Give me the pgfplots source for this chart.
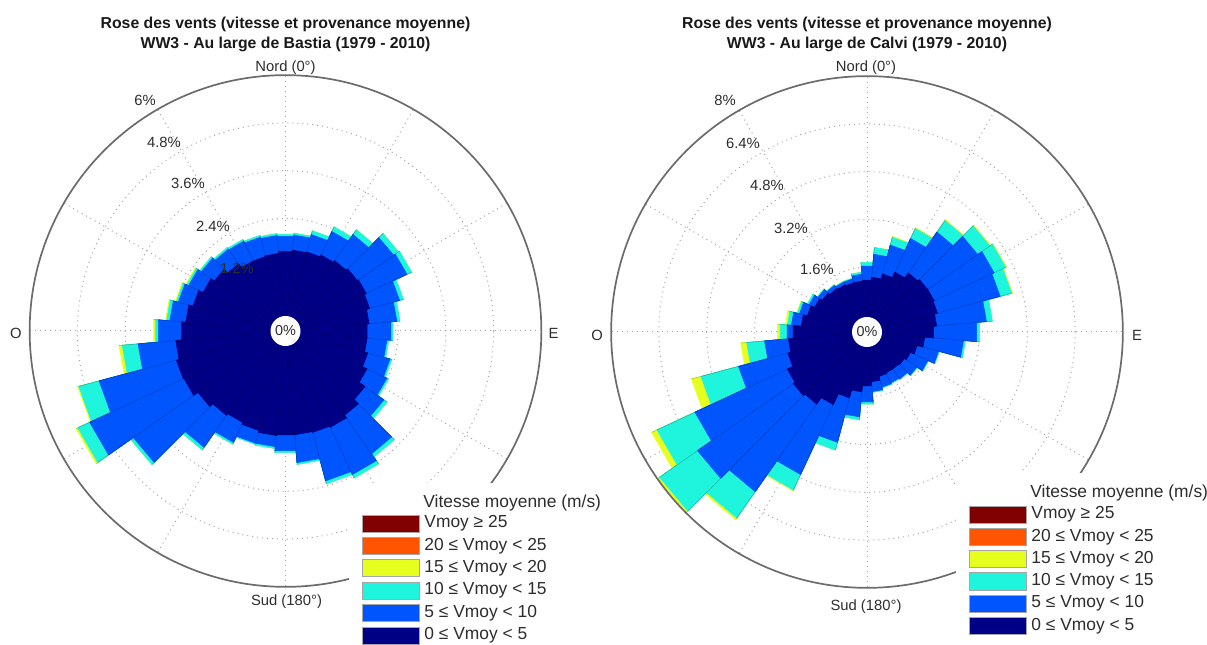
\documentclass[border=0pt]{standalone}
\usepackage{fontspec}
\setmainfont{Liberation Sans}
\usepackage{pgfplots}
\usepackage{pgfplotstable}
\pgfplotsset{compat=1.18}

\definecolor{cA}{RGB}{0,0,135}
\definecolor{cB}{RGB}{0,85,255}
\definecolor{cC}{RGB}{30,245,220}
\definecolor{cD}{RGB}{230,255,30}
\definecolor{cE}{RGB}{255,85,0}
\definecolor{cF}{RGB}{128,0,0}
\definecolor{gridc}{RGB}{165,165,165}
\definecolor{txt}{RGB}{45,45,45}

% frequency (%) per direction sector (10 deg) and speed class
% a: 0-5, b: 5-10, c: 10-15, d: 15-20 m/s
\pgfplotstableread{
dir a b c d
0 1.58 0.38 0.05 0
10 1.61 0.38 0.05 0
20 1.63 0.45 0.10 0
30 1.68 0.65 0.13 0
40 1.73 0.80 0.15 0
50 1.78 1.11 0.15 0
60 1.81 1.13 0.13 0
70 1.76 0.78 0.10 0
80 1.68 0.70 0.08 0
90 1.63 0.60 0.05 0
100 1.63 0.50 0.05 0
110 1.71 0.58 0.05 0
120 1.83 0.55 0.05 0
130 2.01 0.58 0.10 0
140 2.16 1.18 0.10 0
150 2.24 1.31 0.10 0
160 2.21 1.26 0.08 0
170 2.19 0.70 0.05 0
180 2.19 0.40 0.05 0
190 2.21 0.28 0.05 0
200 2.16 0.33 0.03 0
210 2.11 0.55 0.05 0
220 2.16 0.98 0.08 0
230 2.26 1.98 0.08 0
240 2.39 2.61 0.33 0.05
250 2.41 2.01 0.53 0.03
260 2.34 0.95 0.40 0.08
270 2.19 0.58 0.08 0.05
280 2.09 0.40 0.08 0.03
290 1.98 0.38 0.05 0.03
300 1.86 0.40 0.05 0.03
310 1.76 0.40 0.05 0
320 1.63 0.45 0.05 0
330 1.51 0.55 0.05 0
340 1.51 0.50 0.05 0
350 1.53 0.45 0.05 0
}\bastia

\pgfplotstableread{
dir a b c d
0 1.17 0.47 0.13 0
10 1.27 0.77 0.23 0
20 1.44 1.00 0.27 0.03
30 1.64 1.24 0.37 0.03
40 1.84 1.67 0.47 0.03
50 1.91 2.04 0.50 0.03
60 1.91 2.21 0.43 0.03
70 1.87 2.17 0.40 0.03
80 1.77 1.67 0.20 0
90 1.67 1.44 0.10 0
100 1.37 1.30 0.07 0
110 1.17 0.74 0.03 0
120 1.04 0.64 0.03 0
130 0.97 0.50 0.03 0
140 0.94 0.40 0.03 0
150 0.94 0.37 0.03 0
160 0.97 0.37 0.03 0
170 1.10 0.33 0.03 0
180 1.24 0.54 0.07 0
190 1.44 0.84 0.10 0
200 1.71 1.54 0.27 0
210 2.11 2.58 0.57 0.03
220 2.37 3.58 1.07 0.07
230 2.44 3.91 1.55 0.10
240 2.37 3.41 1.40 0.20
250 2.17 1.71 1.30 0.33
260 2.07 0.80 0.60 0.20
270 1.91 0.20 0.23 0.10
280 1.64 0.33 0.13 0.07
290 1.50 0.27 0.07 0.03
300 1.37 0.20 0.07 0
310 1.27 0.17 0.03 0
320 1.20 0.13 0.03 0
330 1.17 0.10 0.03 0
340 1.14 0.13 0.03 0
350 1.14 0.23 0.07 0
}\calvi

% #1 table, #2 number of stacked classes, #3 pixels per percent, #4 colour
\newcommand\roselayer[4]{%
  \gdef\rosecoords{}%
  \gdef\roseedges{}%
  \pgfplotsforeachungrouped \i in {0,...,35}{%
    \pgfplotstablegetelem{\i}{dir}\of#1\let\rd\pgfplotsretval
    \pgfplotstablegetelem{\i}{a}\of#1\let\ra\pgfplotsretval
    \pgfplotstablegetelem{\i}{b}\of#1\let\rb\pgfplotsretval
    \pgfplotstablegetelem{\i}{c}\of#1\let\rc\pgfplotsretval
    \pgfplotstablegetelem{\i}{d}\of#1\let\rdd\pgfplotsretval
    \pgfmathsetmacro\rr{17+#3*(\ra+(#2>1)*\rb+(#2>2)*\rc+(#2>3)*\rdd)}%
    \pgfmathsetmacro\xa{\rr*sin(\rd-5)}%
    \pgfmathsetmacro\ya{\rr*cos(\rd-5)}%
    \pgfmathsetmacro\xb{\rr*sin(\rd+5)}%
    \pgfmathsetmacro\yb{\rr*cos(\rd+5)}%
    \pgfmathsetmacro\xo{17*sin(\rd-5)}%
    \pgfmathsetmacro\yo{17*cos(\rd-5)}%
    \pgfmathsetmacro\xp{17*sin(\rd+5)}%
    \pgfmathsetmacro\yp{17*cos(\rd+5)}%
    \xdef\rosecoords{\rosecoords(\xa,\ya)(\xb,\yb)}%
    \xdef\roseedges{\roseedges(\xo,\yo)(\xa,\ya)(nan,nan)(\xp,\yp)(\xb,\yb)(nan,nan)}%
  }%
  \edef\rosecmd{\noexpand\addplot[fill=#4,draw=#4,line width=0.3bp] coordinates {\rosecoords};%
    \noexpand\addplot[draw=#4!78!black,line width=0.3bp,unbounded coords=jump] coordinates {\roseedges};}%
  \rosecmd
}

\newcommand\rosegrid{%
  \foreach \r in {64.77,112.54,160.31,208.08}{\draw[gridc,dotted,line width=0.5bp] (0,0) circle[radius=\r];}%
  \foreach \a in {0,30,...,330}{\draw[gridc,dotted,line width=0.5bp] (0,0) -- (90-\a:255.85);}%
}
\newcommand\rosefront{%
  \draw[black!58,line width=0.85bp] (0,0) circle[radius=255.85];
  \fill[white] (0,0) circle[radius=15];
  \node[txt,font=\fontsize{7.2bp}{8bp}\selectfont] at (0,0) {0\%};
}
\newcommand\legtxt{\fontsize{8.7bp}{10bp}\selectfont}
\newcommand\roselegend[4]{% #1 x patch left, #2 y of first row centre, #3 row step, #4 title y
  \fill[white] (#1-13,#4+20) rectangle (#1+260,-320);
  \node[anchor=west,inner sep=0pt,txt,font=\legtxt] at (#1+61,#4) {Vitesse moyenne (m/s)};
  \foreach \c/\t [count=\k from 0] in {cF/Vmoy ≥ 25,cE/20 ≤ Vmoy < 25,cD/15 ≤ Vmoy < 20,cC/10 ≤ Vmoy < 15,cB/5 ≤ Vmoy < 10,cA/0 ≤ Vmoy < 5}{%
    \filldraw[fill=\c,draw=gray!70,line width=0.4bp] (#1,#2-\k*#3-8.5) rectangle (#1+57,#2-\k*#3+8.5);
    \node[anchor=west,inner sep=0pt,txt,font=\legtxt] at (#1+62,#2-\k*#3) {\t};
  }%
}
\newcommand\titfont{\fontsize{7.9bp}{10bp}\selectfont\bfseries}
\newcommand\labfont{\fontsize{7.4bp}{8bp}\selectfont}

\begin{document}
\begin{tikzpicture}[x=0.5bp,y=0.5bp]
\path[use as bounding box] (0,0) rectangle (1207,644);

% ---------------- Bastia ----------------
\begin{scope}[shift={(285.5,313)}]
  \rosegrid
\end{scope}
\begin{axis}[at={(0,0)},anchor=south west,x=0.5bp,y=0.5bp,
  xmin=-285.5,xmax=314.5,ymin=-313,ymax=331,hide axis,clip=false]
  \roselayer{\bastia}{4}{39.8}{cD}
  \roselayer{\bastia}{3}{39.8}{cC}
  \roselayer{\bastia}{2}{39.8}{cB}
  \roselayer{\bastia}{1}{39.8}{cA}
\end{axis}
\begin{scope}[shift={(285.5,313)}]
  \rosefront
  \node[txt,font=\labfont] at (-140.5,231) {6\%};
  \node[txt,font=\labfont] at (-121.5,189) {4.8\%};
  \node[txt,font=\labfont] at (-97.5,148) {3.6\%};
  \node[txt,font=\labfont] at (-72.5,105) {2.4\%};
  \node[txt,font=\labfont] at (-48.5,63) {1.2\%};
  \node[txt,font=\labfont,anchor=base] at (0,259.5) {Nord (0°)};
  \node[txt,font=\labfont,anchor=base] at (1,-274) {Sud (180°)};
  \node[txt,font=\labfont] at (-269.5,-2) {O};
  \node[txt,font=\labfont] at (268,-2) {E};
  \node[black!90,font=\titfont,anchor=base] at (0,302.5) {Rose des vents (vitesse et provenance moyenne)};
  \node[black!90,font=\titfont,anchor=base] at (0,282.5) {WW3 - Au large de Bastia (1979 - 2010)};
  \roselegend{76.5}{-192.5}{22.4}{-172}
\end{scope}

% ---------------- Calvi ----------------
\begin{scope}[shift={(867,312)}]
  \rosegrid
\end{scope}
\begin{axis}[at={(600,0)},anchor=south west,x=0.5bp,y=0.5bp,
  xmin=-267,xmax=340,ymin=-312,ymax=332,hide axis,clip=false]
  \roselayer{\calvi}{4}{29.9}{cD}
  \roselayer{\calvi}{3}{29.9}{cC}
  \roselayer{\calvi}{2}{29.9}{cB}
  \roselayer{\calvi}{1}{29.9}{cA}
\end{axis}
\begin{scope}[shift={(867,312)}]
  \rosefront
  \node[txt,font=\labfont] at (-142,232) {8\%};
  \node[txt,font=\labfont] at (-124,189) {6.4\%};
  \node[txt,font=\labfont] at (-100,147) {4.8\%};
  \node[txt,font=\labfont] at (-76,104) {3.2\%};
  \node[txt,font=\labfont] at (-50,63) {1.6\%};
  \node[txt,font=\labfont,anchor=base] at (-1,260.5) {Nord (0°)};
  \node[txt,font=\labfont,anchor=base] at (-1,-278) {Sud (180°)};
  \node[txt,font=\labfont] at (-270,-3) {O};
  \node[txt,font=\labfont] at (270,-3) {E};
  \node[black!90,font=\titfont,anchor=base] at (0,303.5) {Rose des vents (vitesse et provenance moyenne)};
  \node[black!90,font=\titfont,anchor=base] at (0,283.5) {WW3 - Au large de Calvi (1979 - 2010)};
  \roselegend{102}{-182.5}{22.3}{-161}
\end{scope}
\end{tikzpicture}
\end{document}
